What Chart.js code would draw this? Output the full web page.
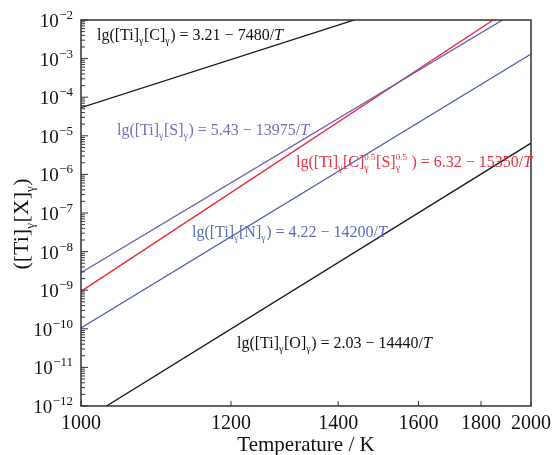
<!DOCTYPE html>
<html>
<head>
<meta charset="utf-8">
<script src="https://cdn.jsdelivr.net/npm/chart.js@4.4.1/dist/chart.umd.min.js"></script>
<style>
  body { margin: 0; background: #fff; }
  canvas { display: block; }
</style>
</head>
<body>
<canvas id="miGrafica" width="557" height="455"></canvas>
<script>
// datos
const tempTicks = [1000, 1200, 1400, 1600, 1800, 2000];
const tempEnds = [1000, 2000];
const tiC = [5.37e-5, 0.295];
const tiS = [2.85e-9, 2.77e-2];
const tiCS = [9.33e-10, 4.42e-2];
const tiN = [1.05e-10, 1.32e-3];
const tiO = [3.89e-13, 6.46e-6];
const yExps = [-12, -11, -10, -9, -8, -7, -6, -5, -4, -3, -2];

const serif = "'Liberation Serif', 'Times New Roman', serif";

// textos de las ecuaciones
const etiquetas = [
  { x: 97, y: 40, color: "#111", segs: [{ t: "lg([Ti]" }, { sub: "γ" }, { t: "[C]" }, { sub: "γ" }, { t: ") = 3.21 − 7480/" }, { t: "T", it: true }] },
  { x: 117, y: 135, color: "#7a6cb4", segs: [{ t: "lg([Ti]" }, { sub: "γ" }, { t: "[S]" }, { sub: "γ" }, { t: ") = 5.43 − 13975/" }, { t: "T", it: true }] },
  { x: 296, y: 167, color: "#e8303e", segs: [{ t: "lg([Ti]" }, { sub: "γ" }, { t: "[C]" }, { sub: "γ", sup: "0.5" }, { t: "[S]" }, { sub: "γ", sup: "0.5" }, { t: " ) = 6.32 − 15350/" }, { t: "T", it: true }] },
  { x: 192, y: 237, color: "#5c6cb8", segs: [{ t: "lg([Ti]" }, { sub: "γ" }, { t: "[N]" }, { sub: "γ" }, { t: ") = 4.22 − 14200/" }, { t: "T", it: true }] },
  { x: 237, y: 348, color: "#111", segs: [{ t: "lg([Ti]" }, { sub: "γ" }, { t: "[O]" }, { sub: "γ" }, { t: ") = 2.03 − 14440/" }, { t: "T", it: true }] }
];

function textoRico(ctx, segs, x, y, size, draw) {
  let cx = x;
  ctx.textBaseline = "alphabetic";
  ctx.textAlign = "left";
  segs.forEach(s => {
    if (s.t !== undefined) {
      ctx.font = (s.it ? "italic " : "") + size + "px " + serif;
      if (draw) ctx.fillText(s.t, cx, y);
      cx += ctx.measureText(s.t).width;
    } else {
      ctx.font = Math.round(size * 0.6) + "px " + serif;
      let w = ctx.measureText(s.sub).width;
      if (draw) ctx.fillText(s.sub, cx, y + size * 0.28);
      if (s.sup) {
        ctx.font = Math.round(size * 0.55) + "px " + serif;
        if (draw) ctx.fillText(s.sup, cx, y - size * 0.42);
        w = Math.max(w, ctx.measureText(s.sup).width);
      }
      cx += w + 0.5;
    }
  });
  return cx - x;
}

const marco = {
  id: "marco",
  afterDraw(chart) {
    const { ctx, chartArea: a, scales: { x, y } } = chart;
    ctx.save();
    ctx.strokeStyle = "#333";
    ctx.lineWidth = 1.5;
    ctx.strokeRect(a.left, a.top, a.right - a.left, a.bottom - a.top);

    // ticks del eje y hacia dentro
    ctx.lineWidth = 1;
    ctx.strokeStyle = "#333";
    yExps.forEach(e => {
      for (let m = 1; m < 10; m++) {
        if (e === yExps[yExps.length - 1] && m > 1) break;
        const py = y.getPixelForValue(m * Math.pow(10, e));
        const len = m === 1 ? 7 : 4;
        ctx.beginPath();
        ctx.moveTo(a.left, py);
        ctx.lineTo(a.left + len, py);
        ctx.stroke();
      }
    });
    // ticks del eje x hacia dentro
    tempTicks.forEach(t => {
      const px = x.getPixelForValue(1 / t);
      ctx.beginPath();
      ctx.moveTo(px, a.bottom);
      ctx.lineTo(px, a.bottom - 5);
      ctx.stroke();
    });

    // etiquetas del eje y: 10^n
    ctx.fillStyle = "#111";
    yExps.forEach(e => {
      const py = y.getPixelForValue(Math.pow(10, e));
      const exp = "−" + Math.abs(e);
      ctx.font = "13px " + serif;
      const we = ctx.measureText(exp).width;
      ctx.textAlign = "right";
      ctx.textBaseline = "alphabetic";
      ctx.fillText(exp, 73, py - 1);
      ctx.font = "19px " + serif;
      ctx.fillText("10", 73 - we - 0.5, py + 7);
    });

    // titulo del eje y
    ctx.save();
    ctx.translate(28, 224);
    ctx.rotate(-Math.PI / 2);
    const tituloY = [{ t: "([Ti]" }, { sub: "γ" }, { t: "[X]" }, { sub: "γ" }, { t: ")" }];
    const w = textoRico(ctx, tituloY, 0, 0, 22, false);
    textoRico(ctx, tituloY, -w / 2, 0, 22, true);
    ctx.restore();

    // ecuaciones
    etiquetas.forEach(et => {
      ctx.fillStyle = et.color;
      textoRico(ctx, et.segs, et.x, et.y, 16, true);
    });
    ctx.restore();
  }
};

function serie(vals) {
  return tempEnds.map((t, i) => ({ x: 1 / t, y: vals[i] }));
}

let micanvas = document.getElementById("miGrafica").getContext("2d");
let chart = new Chart(micanvas, {
  type: "line",
  data: {
    datasets: [
      { data: serie(tiC), borderColor: "#1a1a1a" },
      { data: serie(tiS), borderColor: "#6a5cb0" },
      { data: serie(tiCS), borderColor: "#e8283a" },
      { data: serie(tiN), borderColor: "#4e5eb0" },
      { data: serie(tiO), borderColor: "#1a1a1a" }
    ]
  },
  options: {
    responsive: false,
    animation: false,
    datasets: { line: { borderWidth: 1.3, pointRadius: 0, tension: 0, fill: false } },
    layout: { padding: { left: 81, right: 23, top: 20, bottom: 0 } },
    plugins: { legend: { display: false }, tooltip: { enabled: false } },
    scales: {
      x: {
        type: "linear",
        reverse: true,
        min: 1 / 2000,
        max: 1 / 1000,
        afterBuildTicks: s => { s.ticks = tempTicks.map(t => ({ value: 1 / t })); },
        afterFit: s => { s.height = 49; },
        ticks: {
          callback: v => Math.round(1 / v),
          font: { family: serif, size: 20 },
          color: "#111",
          padding: 6,
          maxRotation: 0,
          autoSkip: false
        },
        grid: { display: false, drawTicks: false },
        border: { display: false },
        title: {
          display: true,
          text: "Temperature / K",
          font: { family: serif, size: 21 },
          color: "#111",
          padding: { top: 0, bottom: -3 }
        }
      },
      y: {
        type: "logarithmic",
        min: 1e-12,
        max: 1e-2,
        afterFit: s => { s.width = 0; },
        ticks: { display: false },
        grid: { display: false, drawTicks: false },
        border: { display: false }
      }
    }
  },
  plugins: [marco]
});
</script>
</body>
</html>
